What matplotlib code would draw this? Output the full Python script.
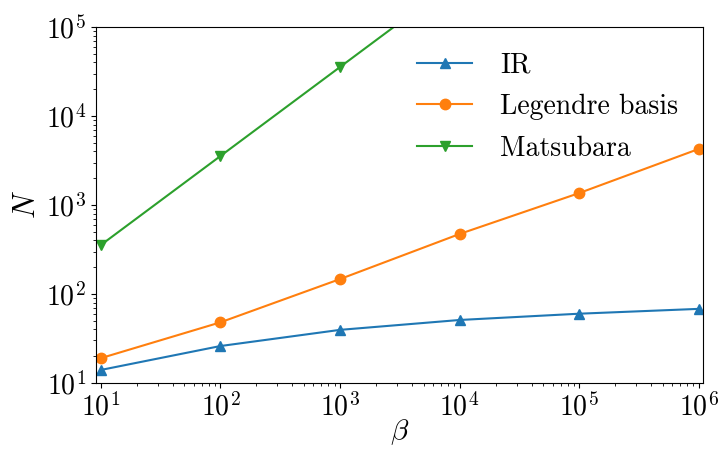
import numpy as np
import matplotlib
matplotlib.use("Agg")
import matplotlib.pyplot as plt

plt.rcParams["font.family"] = "serif"
plt.rcParams["font.serif"] = ["cmr10"]
plt.rcParams["mathtext.fontset"] = "cm"
plt.rcParams["axes.formatter.use_mathtext"] = True

beta = [1e1, 1e2, 1e3, 1e4, 1e5, 1e6]
n_ir = [14, 26, 39.5, 51, 60, 68]
n_legendre = [19, 48, 147, 472, 1360, 4260]
n_matsubara = [355, 3550, 35500, 355000, 3550000, 35500000]

fig = plt.figure(figsize=(7.19, 4.5), dpi=100)
ax = fig.add_axes([0.1335, 0.149, 0.8445, 0.791])

ax.plot(beta, n_ir, marker="^", markersize=7.5, label="IR")
ax.plot(beta, n_legendre, marker="o", markersize=7.5, label="Legendre basis")
ax.plot(beta, n_matsubara, marker="v", markersize=7.5, label="Matsubara")

ax.set_xscale("log")
ax.set_yscale("log")
ax.set_xlim(9.1, 1.09e6)
ax.set_ylim(10, 1e5)
ax.tick_params(labelsize=20)
ax.set_xlabel(r"$\beta$", fontsize=21, labelpad=-3)
ax.set_ylabel(r"$N$", fontsize=22)
ax.legend(fontsize=20, frameon=False, loc="upper right", bbox_to_anchor=(1.0, 1.0),
          labelspacing=0.55, handletextpad=1.0)

fig.savefig("out.png")
